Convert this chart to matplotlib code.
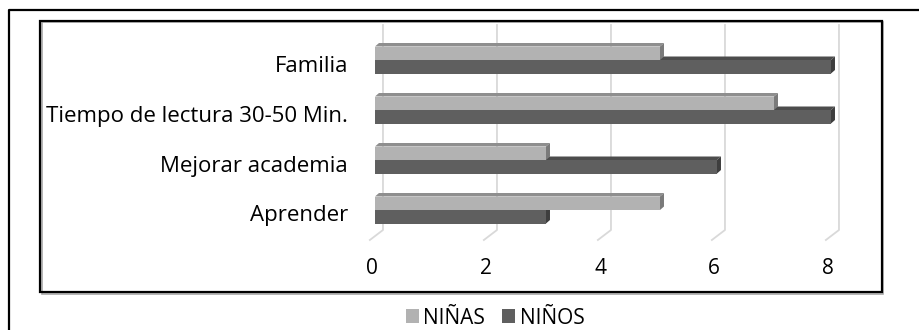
import matplotlib.pyplot as plt
from matplotlib.patches import Rectangle, Polygon, Patch
from matplotlib.lines import Line2D

categorias = ["Aprender", "Mejorar academia", "Tiempo de lectura 30-50 Min.", "Familia"]
ninas = [5, 3, 7, 5]
ninos = [3, 6, 8, 8]
ticks = [0, 2, 4, 6, 8]

c_ninas = "#b2b2b2"
c_ninos = "#5f5f5f"

W, H = 920, 330
plt.rcParams['font.family'] = ['Open Sans', 'DejaVu Sans']

fig = plt.figure(figsize=(W / 100, H / 100), dpi=100)


def fx(x):
    return x / W


def fy(y):
    return 1 - y / H


# marcos exterior e interior
fig.add_artist(Line2D([fx(9), fx(9), fx(920)], [fy(330), fy(10), fy(10)],
                      color="black", lw=1.6, transform=fig.transFigure))
fig.add_artist(Rectangle((fx(41.5), fy(293.5)), fx(842), 272 / H, fill=False,
                         ec="#a8a8a8", lw=1.2, transform=fig.transFigure))
fig.add_artist(Rectangle((fx(40), fy(292)), fx(842), 271 / H, fill=False,
                         ec="black", lw=1.6, transform=fig.transFigure))

# ejes: 0 -> 375 px, 8 -> 831 px ; y de 25 a 230 px
ax = fig.add_axes([fx(375), fy(230), fx(456), 205 / H])
ax.set_xlim(0, 8)
ax.set_ylim(-0.4, 3.7)
ax.axis("off")

dx, dy = 0.07, 0.07
h = 0.27

# rejilla con pie en perspectiva
for v in ticks:
    ax.plot([v + 0.14, v + 0.14, v - 0.09], [3.7, -0.4, -0.6], color="#d9d9d9",
            lw=1.3, clip_on=False, zorder=1)
    ax.text(v - 0.05, -1.16, str(v), ha="center", va="center", fontsize=15)


def barra_3d(valor, y0, color, cara, lado, z):
    ax.add_patch(Rectangle((0, y0), valor, h, fc=color, ec="none", zorder=z))
    y1 = y0 + h
    ax.add_patch(Polygon([(0, y1), (valor, y1), (valor + dx, y1 + dy), (dx, y1 + dy)],
                         closed=True, fc=cara, ec="none", zorder=z, clip_on=False))
    ax.add_patch(Polygon([(valor, y0), (valor, y1), (valor + dx, y1 + dy), (valor + dx, y0 + dy)],
                         closed=True, fc=lado, ec="none", zorder=z, clip_on=False))


for i, cat in enumerate(categorias):
    barra_3d(ninos[i], i - h, c_ninos, "#4c4c4c", "#3e3e3e", 2)
    barra_3d(ninas[i], i, c_ninas, "#8e8e8e", "#7a7a7a", 3)
    ax.text(-0.47, i - 0.12, cat, ha="right", va="center", fontsize=16, clip_on=False)

handles = [Patch(fc=c_ninas, ec="none", label="NIÑAS"),
           Patch(fc=c_ninos, ec="none", label="NIÑOS")]
fig.legend(handles=handles, loc="center", bbox_to_anchor=(fx(495), fy(318)), ncol=2,
           frameon=False, fontsize=15, handlelength=0.65, handleheight=0.65,
           handletextpad=0.2, columnspacing=0.8)

fig.savefig("out.png", dpi=100)
